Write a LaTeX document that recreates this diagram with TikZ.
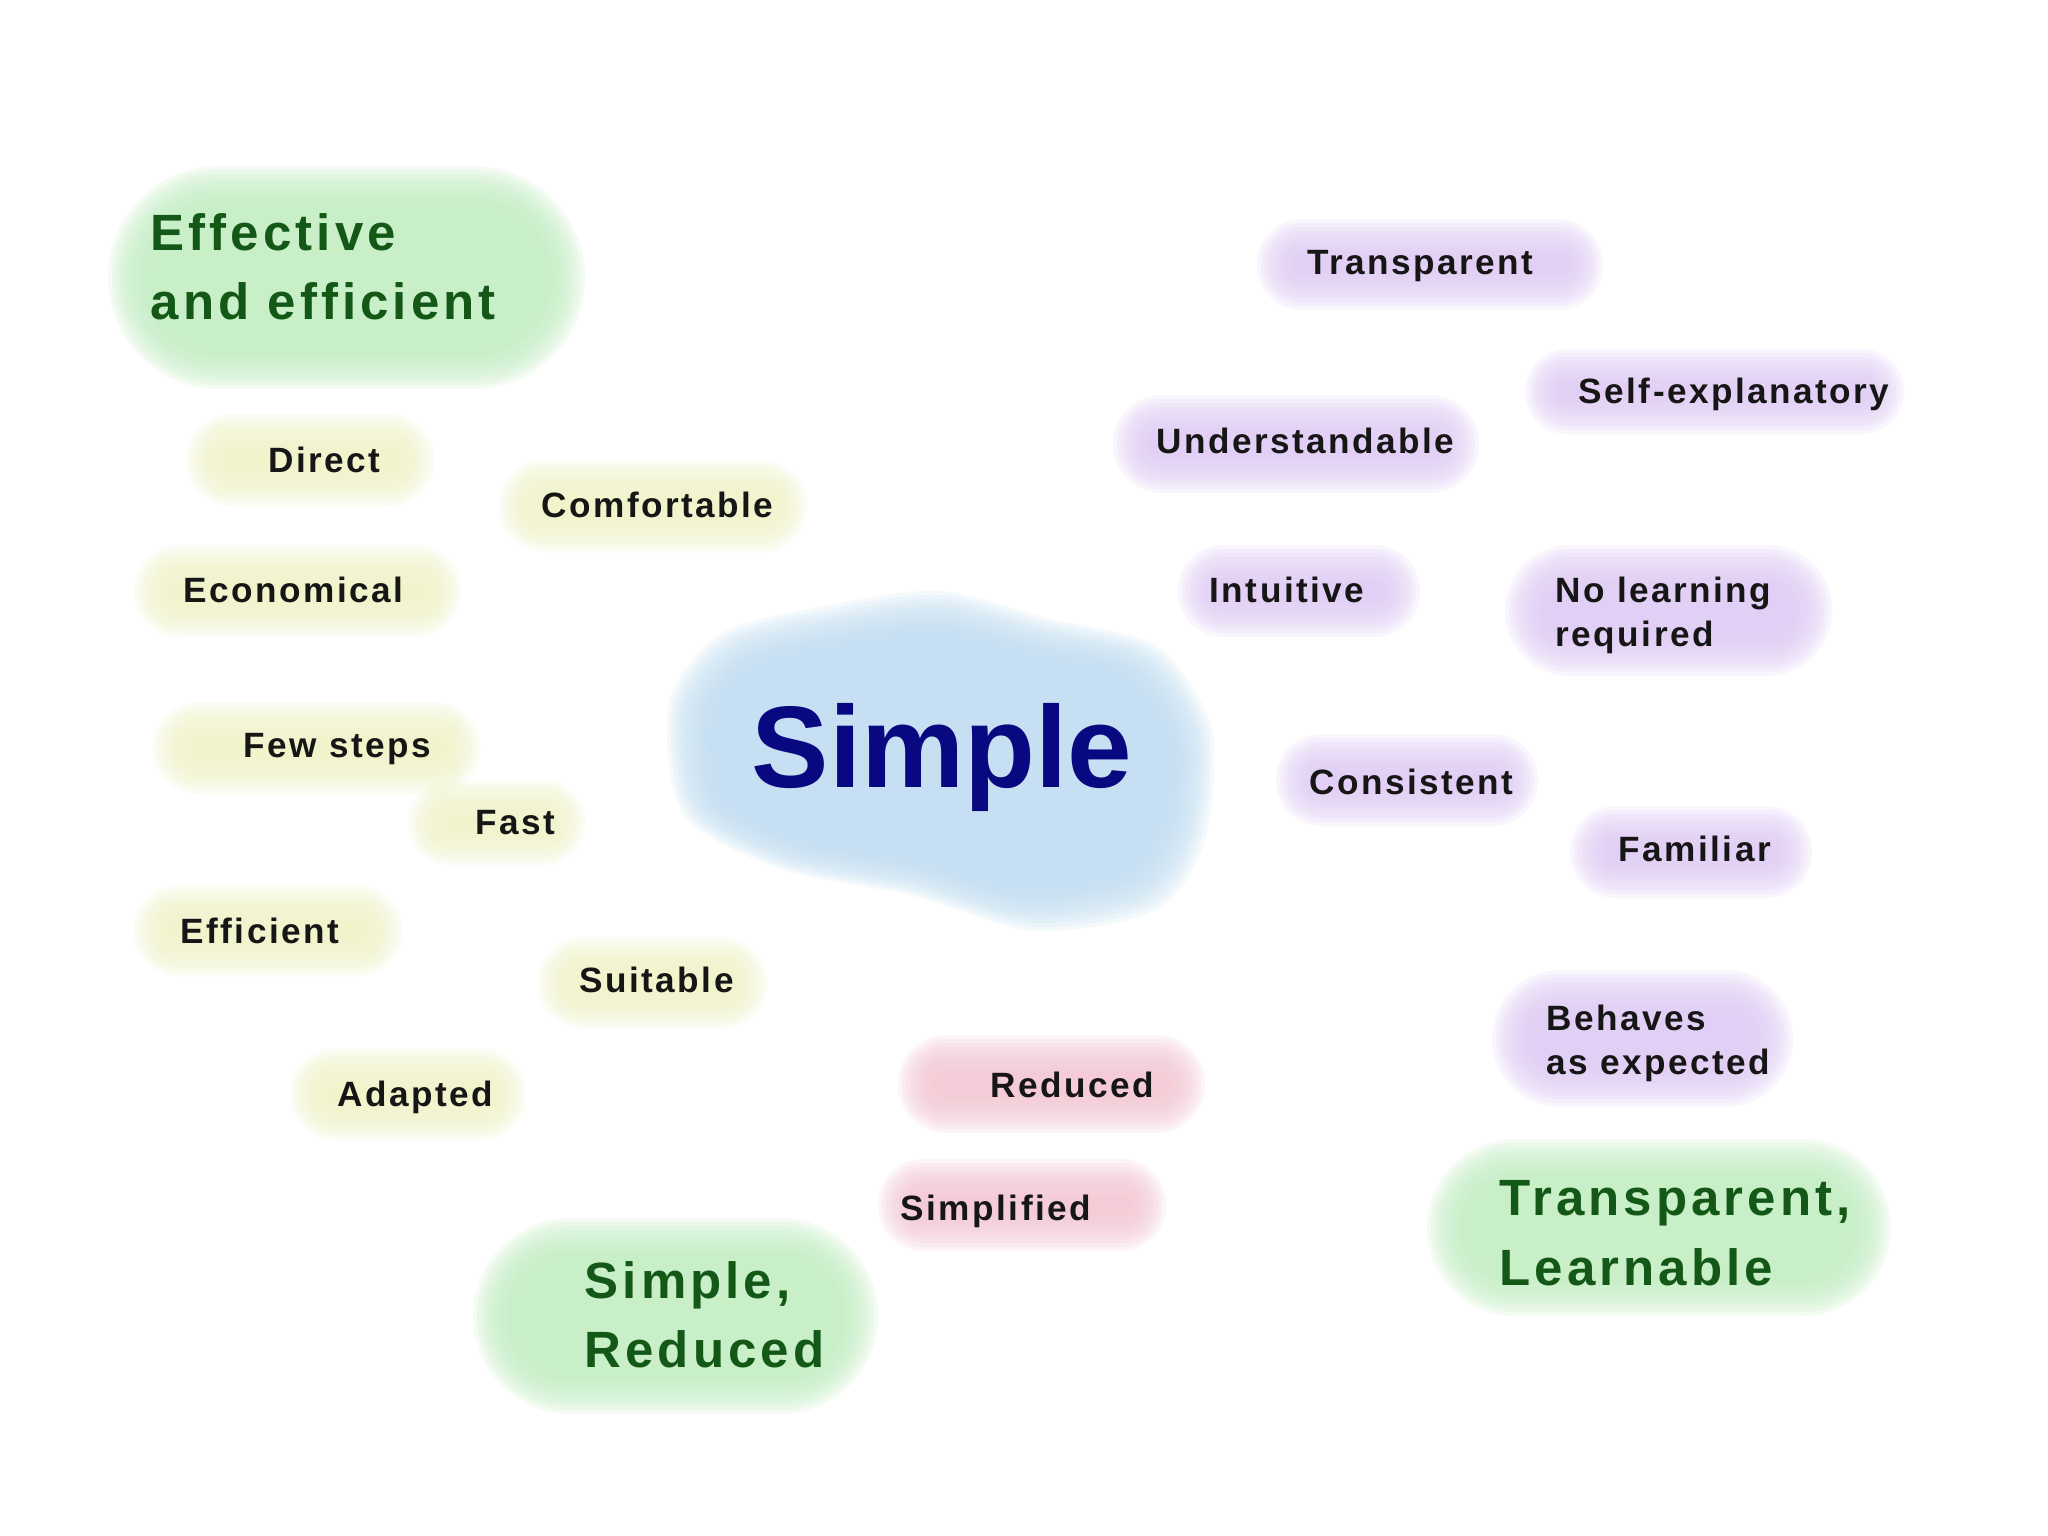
\documentclass[tikz,border=0pt]{standalone}
\usepackage{fontspec}
\setmainfont{Liberation Sans}
\newfontfamily\lblfont[LetterSpace=7]{Liberation Sans}
\newfontfamily\headfont[LetterSpace=8]{Liberation Sans}
\usetikzlibrary{positioning}

\definecolor{headgreen}{RGB}{20,88,24}
\definecolor{blobgreen}{RGB}{196,239,196}
\definecolor{blobyellow}{RGB}{241,244,200}
\definecolor{blobpurple}{RGB}{226,204,245}
\definecolor{blobpink}{RGB}{244,200,212}
\definecolor{blobblue}{RGB}{196,223,243}
\definecolor{navy}{RGB}{8,8,128}
\definecolor{wordink}{RGB}{22,22,22}

% soft blob: x1 y1 x2 y2 colour
\newcommand\softblob[5]{%
  \foreach \d in {-10,-6,...,30}{%
    \pgfmathsetmacro\rr{max(min(#3-#1,#4-#2)/2-\d-0.5,1)*0.2845}%
    \fill[#5,fill opacity=0.19,rounded corners=\rr pt] (#1+\d,#2+\d) rectangle (#3-\d,#4-\d);
  }}

\begin{document}
\begin{tikzpicture}[x=0.01cm, y=-0.01cm,
  word/.style = {inner sep=0, anchor=base west, text=wordink, align=left,
    font=\lblfont\bfseries\fontsize{10}{12.6}\selectfont},
  word2/.style = {word, anchor=north west},
  head/.style = {inner sep=0, anchor=north west, text=headgreen, align=left,
    font=\headfont\bfseries\fontsize{14.5}{19.7}\selectfont},
  main/.style = {inner sep=0, anchor=base west, text=navy,
    font=\bfseries\fontsize{33}{40}\selectfont}]
  \useasboundingbox[fill=white] (0,0) rectangle (2048,1536);

  % the cloud behind Simple
  \foreach \d in {-10,-6,...,34}{
    \pgfmathsetmacro\sx{(270-\d)/270}
    \pgfmathsetmacro\sy{(160-\d)/160}
    \fill[blobblue, fill opacity=0.18, shift={(940,762)}, xscale=\sx, yscale=\sy]
      plot[smooth cycle] coordinates {(-261,-57) (-209,-122) (-104,-148) (0,-161)
        (105,-135) (209,-109) (262,-31) (255,74) (209,139) (92,159) (-26,126)
        (-156,100) (-248,48)};
  }

  \softblob{118}{176}{575}{379}{blobgreen}
  \softblob{483}{1228}{868}{1404}{blobgreen}
  \softblob{1437}{1149}{1881}{1306}{blobgreen}

  \softblob{196}{424}{424}{496}{blobyellow}
  \softblob{509}{470}{797}{542}{blobyellow}
  \softblob{144}{555}{451}{627}{blobyellow}
  \softblob{163}{712}{470}{784}{blobyellow}
  \softblob{418}{790}{575}{855}{blobyellow}
  \softblob{144}{895}{392}{966}{blobyellow}
  \softblob{548}{947}{757}{1019}{blobyellow}
  \softblob{300}{1058}{516}{1130}{blobyellow}

  \softblob{1267}{229}{1593}{300}{blobpurple}
  \softblob{1535}{359}{1894}{424}{blobpurple}
  \softblob{1123}{405}{1469}{483}{blobpurple}
  \softblob{1188}{555}{1410}{627}{blobpurple}
  \softblob{1515}{555}{1822}{666}{blobpurple}
  \softblob{1286}{744}{1528}{816}{blobpurple}
  \softblob{1580}{816}{1802}{888}{blobpurple}
  \softblob{1502}{980}{1783}{1097}{blobpurple}

  \softblob{908}{1045}{1195}{1123}{blobpink}
  \softblob{888}{1169}{1156}{1241}{blobpink}

  \node[main] (simple) at (751,787) {Simple};

  \node[head] (effhead) at (150,213) {Effective\\and efficient};
  \node[head] (simphead) at (584,1261) {Simple,\\Reduced};
  \node[head] (transhead) at (1499,1180) {Transparent,\\Learnable};

  \node[word] (direct) at (268,472) {Direct};
  \node[word] (comfort) at (541,517) {Comfortable};
  \node[word] (econ) at (183,602) {Economical};
  \node[word] (fewsteps) at (243,757) {Few steps};
  \node[word] (fast) at (475,834) {Fast};
  \node[word] (effic) at (180,943) {Efficient};
  \node[word] (suitable) at (579,992) {Suitable};
  \node[word] (adapted) at (337,1106) {Adapted};

  \node[word] (transp) at (1307,274) {Transparent};
  \node[word] (selfexp) at (1578,403) {Self-explanatory};
  \node[word] (underst) at (1156,453) {Understandable};
  \node[word] (intuit) at (1209,602) {Intuitive};
  \node[word2] (nolearn) at (1555,576) {No learning\\required};
  \node[word] (consist) at (1309,794) {Consistent};
  \node[word] (familiar) at (1618,861) {Familiar};
  \node[word2] (behaves) at (1546,1004) {Behaves\\as expected};

  \node[word] (reduced) at (990,1097) {Reduced};
  \node[word] (simplif) at (900,1220) {Simplified};
\end{tikzpicture}
\end{document}
